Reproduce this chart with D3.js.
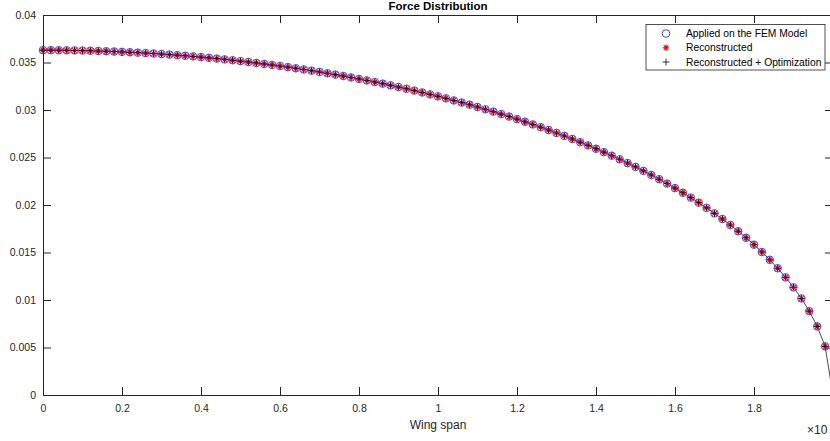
<!DOCTYPE html>
<html>
<head>
<meta charset="utf-8">
<script src="https://cdn.jsdelivr.net/npm/d3@7"></script>
<style>
  html, body { margin: 0; padding: 0; background: #fff; }
  svg { display: block; font-family: "Liberation Sans", Arial, Helvetica, sans-serif; }
</style>
</head>
<body>
<svg id="chart" width="830" height="441"></svg>
<script>
// Spanwise stations (in units of the ×10^n axis multiplier)
const span = [
  0.00, 0.02, 0.04, 0.06, 0.08, 0.10, 0.12, 0.14, 0.16, 0.18,
  0.20, 0.22, 0.24, 0.26, 0.28, 0.30, 0.32, 0.34, 0.36, 0.38,
  0.40, 0.42, 0.44, 0.46, 0.48, 0.50, 0.52, 0.54, 0.56, 0.58,
  0.60, 0.62, 0.64, 0.66, 0.68, 0.70, 0.72, 0.74, 0.76, 0.78,
  0.80, 0.82, 0.84, 0.86, 0.88, 0.90, 0.92, 0.94, 0.96, 0.98,
  1.00, 1.02, 1.04, 1.06, 1.08, 1.10, 1.12, 1.14, 1.16, 1.18,
  1.20, 1.22, 1.24, 1.26, 1.28, 1.30, 1.32, 1.34, 1.36, 1.38,
  1.40, 1.42, 1.44, 1.46, 1.48, 1.50, 1.52, 1.54, 1.56, 1.58,
  1.60, 1.62, 1.64, 1.66, 1.68, 1.70, 1.72, 1.74, 1.76, 1.78,
  1.80, 1.82, 1.84, 1.86, 1.88, 1.90, 1.92, 1.94, 1.96, 1.98
];

// Force applied on the FEM model at each station
const forceApplied = [
  0.036300, 0.036298, 0.036293, 0.036284, 0.036271, 0.036255, 0.036235, 0.036211, 0.036183, 0.036153,
  0.036118, 0.036080, 0.036038, 0.035992, 0.035942, 0.035889, 0.035832, 0.035772, 0.035707, 0.035639,
  0.035567, 0.035491, 0.035411, 0.035327, 0.035239, 0.035147, 0.035052, 0.034952, 0.034848, 0.034740,
  0.034628, 0.034512, 0.034391, 0.034267, 0.034138, 0.034004, 0.033866, 0.033724, 0.033577, 0.033426,
  0.033270, 0.033109, 0.032943, 0.032773, 0.032597, 0.032417, 0.032232, 0.032041, 0.031845, 0.031643,
  0.031437, 0.031224, 0.031006, 0.030782, 0.030553, 0.030316, 0.030074, 0.029826, 0.029571, 0.029309,
  0.029040, 0.028764, 0.028481, 0.028191, 0.027892, 0.027585, 0.027271, 0.026948, 0.026616, 0.026274,
  0.025923, 0.025563, 0.025191, 0.024809, 0.024416, 0.024010, 0.023592, 0.023161, 0.022716, 0.022256,
  0.021780, 0.021287, 0.020777, 0.020247, 0.019696, 0.019122, 0.018524, 0.017898, 0.017241, 0.016551,
  0.015823, 0.015050, 0.014227, 0.013342, 0.012385, 0.011335, 0.010164, 0.008825, 0.007224, 0.005121
];

// Reconstructed force (coincides with the applied load)
const forceReconstructed = forceApplied.slice();
// Reconstructed force after optimization
const forceOptimized = forceApplied.slice();

// Continuous reference curve: the stations plus the wing tip
const curveSpan = span.concat([2.0]);
const curveForce = forceApplied.concat([0.0]);

const xTicks = [0, 0.2, 0.4, 0.6, 0.8, 1, 1.2, 1.4, 1.6, 1.8];
const xTickLabels = ["0", "0.2", "0.4", "0.6", "0.8", "1", "1.2", "1.4", "1.6", "1.8"];
const yTicks = [0, 0.005, 0.01, 0.015, 0.02, 0.025, 0.03, 0.035, 0.04];
const yTickLabels = ["0", "0.005", "0.01", "0.015", "0.02", "0.025", "0.03", "0.035", "0.04"];

const seriesNames = ["Applied on the FEM Model", "Reconstructed", "Reconstructed + Optimization"];

const axisColor = "#262626";
const plotLeft = 43, plotTop = 15, plotRight = 833, plotBottom = 395;

const svg = d3.select("#chart");
const x = d3.scaleLinear().domain([0, 2]).range([plotLeft, plotRight]);
const y = d3.scaleLinear().domain([0, 0.04]).range([plotBottom, plotTop]);

// Axes box with inward ticks on all four sides
function styleAxis(g) {
  g.select(".domain").attr("stroke", axisColor).attr("stroke-width", 1);
  g.selectAll(".tick line").attr("stroke", axisColor).attr("stroke-width", 1);
  g.selectAll(".tick text").attr("fill", axisColor).attr("font-size", 10.5)
    .attr("font-family", "Liberation Sans, Arial, sans-serif");
}

svg.append("g").attr("transform", `translate(0,${plotBottom})`)
  .call(d3.axisBottom(x).tickValues(xTicks).tickSize(-8).tickSizeOuter(0).tickPadding(10)
    .tickFormat((d, i) => xTickLabels[i]))
  .call(styleAxis);

svg.append("g").attr("transform", `translate(0,${plotTop})`)
  .call(d3.axisTop(x).tickValues(xTicks).tickSize(-8).tickSizeOuter(0).tickFormat(""))
  .call(styleAxis);

svg.append("g").attr("transform", `translate(${plotLeft},0)`)
  .call(d3.axisLeft(y).tickValues(yTicks).tickSize(-8).tickSizeOuter(0).tickPadding(7)
    .tickFormat((d, i) => yTickLabels[i]))
  .call(styleAxis);

svg.append("g").attr("transform", `translate(${plotRight},0)`)
  .call(d3.axisRight(y).tickValues(yTicks).tickSize(-8).tickSizeOuter(0).tickFormat(""))
  .call(styleAxis);

// Reference curve
svg.append("path")
  .datum(curveSpan.map((s, i) => [s, curveForce[i]]))
  .attr("fill", "none")
  .attr("stroke", "#1a1a1a")
  .attr("stroke-width", 0.8)
  .attr("d", d3.line().x(d => x(d[0])).y(d => y(d[1])));

// Marker shapes
const circleR = 3.8;
function asteriskPath(r) {
  const d = r * Math.SQRT1_2;
  return `M${-r},0L${r},0M0,${-r}L0,${r}M${-d},${-d}L${d},${d}M${-d},${d}L${d},${-d}`;
}
function plusPath(r) {
  return `M${-r},0L${r},0M0,${-r}L0,${r}`;
}

// Applied: blue circles
svg.append("g").selectAll("circle")
  .data(span.map((s, i) => [s, forceApplied[i]]))
  .join("circle")
  .attr("cx", d => x(d[0])).attr("cy", d => y(d[1]))
  .attr("r", circleR)
  .attr("fill", "none").attr("stroke", "#2b2bff").attr("stroke-width", 0.9);

// Reconstructed: red asterisks
svg.append("g").selectAll("path")
  .data(span.map((s, i) => [s, forceReconstructed[i]]))
  .join("path")
  .attr("transform", d => `translate(${x(d[0])},${y(d[1])})`)
  .attr("d", asteriskPath(3.2))
  .attr("fill", "none").attr("stroke", "#ff0000").attr("stroke-width", 1.1);

// Reconstructed + optimization: black plus signs
svg.append("g").selectAll("path")
  .data(span.map((s, i) => [s, forceOptimized[i]]))
  .join("path")
  .attr("transform", d => `translate(${x(d[0])},${y(d[1])})`)
  .attr("d", plusPath(3.3))
  .attr("fill", "none").attr("stroke", "#000000").attr("stroke-width", 0.7);

// Title and axis label
svg.append("text")
  .attr("x", (plotLeft + plotRight) / 2).attr("y", 10)
  .attr("text-anchor", "middle")
  .attr("font-size", 11.5).attr("font-weight", "bold").attr("fill", "#000")
  .text("Force Distribution");

svg.append("text")
  .attr("x", (plotLeft + plotRight) / 2).attr("y", 429)
  .attr("text-anchor", "middle")
  .attr("font-size", 12).attr("fill", axisColor)
  .text("Wing span");

// Exponent multiplier of the x axis
svg.append("text")
  .attr("x", 807).attr("y", 434)
  .attr("font-size", 12).attr("fill", axisColor)
  .text("×10");

// Legend
const legend = svg.append("g");
legend.append("rect")
  .attr("x", 646).attr("y", 24.5).attr("width", 179).attr("height", 45.5)
  .attr("fill", "#fff").attr("stroke", axisColor).attr("stroke-width", 0.8);

const rowY = [33.5, 47.7, 62];
const markerX = 666, textX = 686;
legend.append("circle")
  .attr("cx", markerX).attr("cy", rowY[0]).attr("r", circleR)
  .attr("fill", "none").attr("stroke", "#2b2bff").attr("stroke-width", 0.9);
legend.append("path")
  .attr("transform", `translate(${markerX},${rowY[1]})`)
  .attr("d", asteriskPath(3.2))
  .attr("fill", "none").attr("stroke", "#ff0000").attr("stroke-width", 1.1);
legend.append("path")
  .attr("transform", `translate(${markerX},${rowY[2]})`)
  .attr("d", plusPath(3.5))
  .attr("fill", "none").attr("stroke", "#000").attr("stroke-width", 0.8);

legend.selectAll("text.lbl")
  .data(seriesNames)
  .join("text")
  .attr("class", "lbl")
  .attr("x", textX).attr("y", (d, i) => rowY[i])
  .attr("dy", "0.35em")
  .attr("font-size", 10.3).attr("fill", "#000")
  .text(d => d);
</script>
</body>
</html>
